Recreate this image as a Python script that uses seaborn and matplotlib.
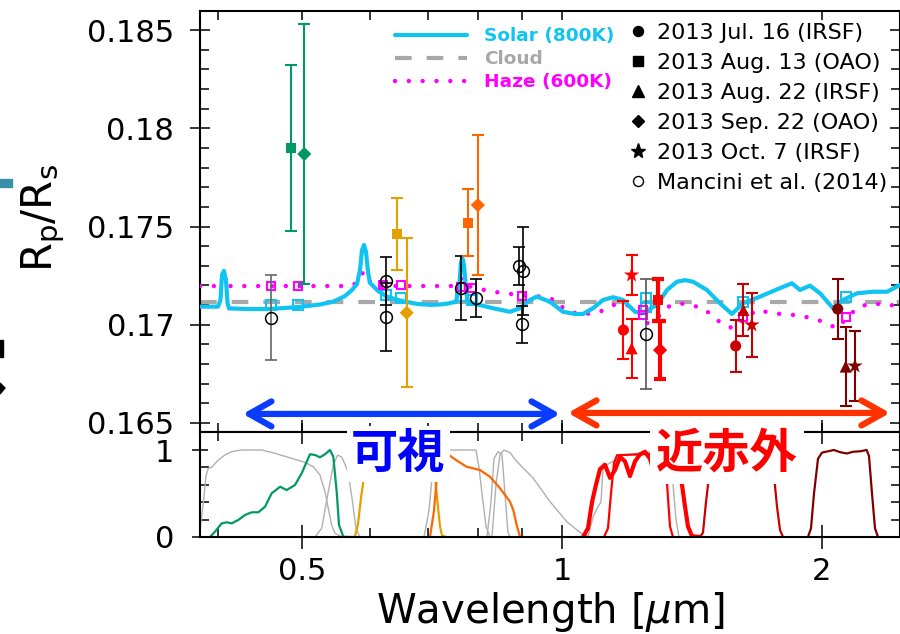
import numpy as np
import pandas as pd
import matplotlib
matplotlib.use("Agg")
import matplotlib.pyplot as plt
import seaborn as sns
from matplotlib.patches import Rectangle, Polygon, ArrowStyle
from matplotlib.lines import Line2D
from matplotlib.ticker import FixedLocator, FixedFormatter, NullFormatter, MultipleLocator

# ---------------- data ----------------
# model spectra (wavelength [um], Rp/Rs)
solar_wl = [0.3809, 0.3996, 0.4023, 0.4039, 0.4060, 0.4082, 0.4099, 0.4115, 0.4352, 0.4590,
            0.4946, 0.5245, 0.5430, 0.5607, 0.5712, 0.5789, 0.5836, 0.5867, 0.5898, 0.5930,
            0.5962, 0.5993, 0.6123, 0.6271, 0.6492, 0.6793, 0.7033, 0.7223, 0.7378, 0.7537,
            0.7598, 0.7639, 0.7669, 0.7700, 0.7741, 0.7783, 0.7929, 0.8320, 0.8704, 0.8942,
            0.9181, 0.9348, 0.9506, 0.9685, 1.0027, 1.0353, 1.0576, 1.0862, 1.1156, 1.1457,
            1.1767, 1.2150, 1.2379, 1.2884, 1.3233, 1.3588, 1.3881, 1.4180, 1.4719, 1.5239,
            1.5734, 1.6202, 1.6952, 1.7880, 1.8461, 1.8860, 1.9369, 1.9897, 2.0600, 2.1157,
            2.1960, 2.2917, 2.3789, 2.4432, 2.4628]
solar_rprs = [0.17092, 0.17092, 0.17126, 0.17253, 0.17274, 0.17228, 0.17111, 0.17083, 0.17080, 0.17080,
              0.17090, 0.17103, 0.17117, 0.17146, 0.17177, 0.17207, 0.17279, 0.17380, 0.17406, 0.17370,
              0.17268, 0.17213, 0.17172, 0.17143, 0.17123, 0.17106, 0.17101, 0.17103, 0.17108, 0.17117,
              0.17177, 0.17319, 0.17338, 0.17304, 0.17177, 0.17117, 0.17106, 0.17084, 0.17066, 0.17084,
              0.17126, 0.17143, 0.17131, 0.17117, 0.17066, 0.17055, 0.17055, 0.17084, 0.17126, 0.17140,
              0.17126, 0.17066, 0.17058, 0.17101, 0.17177, 0.17219, 0.17227, 0.17219, 0.17177, 0.17109,
              0.17055, 0.17109, 0.17143, 0.17186, 0.17211, 0.17177, 0.17199, 0.17160, 0.17084, 0.17126,
              0.17160, 0.17168, 0.17168, 0.17194, 0.17202]
cloud_wl = [0.3809, 2.4628]
cloud_rprs = [0.17114, 0.17114]
haze_wl = [0.3809, 0.3996, 0.4028, 0.4050, 0.4082, 0.4115, 0.4973, 0.5682, 0.5789, 0.5851,
           0.5890, 0.5946, 0.6010, 0.6074, 0.7537, 0.7598, 0.7649, 0.7700, 0.7783, 0.8036,
           0.8320, 0.8940, 0.9608, 0.9947, 1.0027, 1.0492, 1.1066, 1.1466, 1.1883, 1.2256,
           1.2534, 1.2815, 1.3277, 1.3698, 1.4068, 1.4576, 1.4970, 1.5374, 1.5790, 1.6216,
           1.6807, 1.7568, 1.8530, 1.9545, 2.0256, 2.0804, 2.1366, 2.1943, 2.2735, 2.3980, 2.4628]
haze_rprs = [0.17197, 0.17197, 0.17218, 0.17245, 0.17218, 0.17197, 0.17197, 0.17197, 0.17213, 0.17248,
             0.17270, 0.17248, 0.17207, 0.17197, 0.17197, 0.17218, 0.17238, 0.17218, 0.17197, 0.17182,
             0.17168, 0.17151, 0.17141, 0.17112, 0.17084, 0.17050, 0.17066, 0.17101, 0.17101, 0.17066,
             0.17007, 0.17024, 0.17092, 0.17109, 0.17101, 0.17084, 0.17041, 0.16999, 0.16982, 0.17024,
             0.17075, 0.17058, 0.17050, 0.17033, 0.17007, 0.16982, 0.17033, 0.17084, 0.17109, 0.17101, 0.17092]

# band-integrated model values
solar_bin_wl = [0.460, 0.495, 0.625, 0.651, 0.764, 0.786, 1.250, 1.250, 1.620, 2.131]
solar_bin = [0.17101, 0.17101, 0.17151, 0.17135, 0.17146, 0.17126, 0.17135, 0.17092, 0.17117, 0.17140]
haze_bin_wl = [0.460, 0.495, 0.620, 0.651, 0.764, 0.786, 0.898, 1.242, 1.242, 1.620, 2.131]
haze_bin = [0.17197, 0.17197, 0.17202, 0.17202, 0.17194, 0.17185, 0.17148, 0.17075, 0.17050, 0.17041, 0.17041]

# observations (this work)
dates = ["2013 Jul. 16 (IRSF)", "2013 Aug. 13 (OAO)", "2013 Aug. 22 (IRSF)",
         "2013 Sep. 22 (OAO)", "2013 Oct. 7 (IRSF)"]
obs_band = ["g", "g", "r", "r", "i", "i", "J", "J", "J", "J", "J", "H", "H", "H", "Ks", "Ks", "Ks"]
obs_date = [dates[1], dates[3], dates[1], dates[3], dates[1], dates[3],
            dates[0], dates[2], dates[4], dates[1], dates[3],
            dates[0], dates[2], dates[4], dates[0], dates[2], dates[4]]
obs_wl = [0.486, 0.503, 0.644, 0.661, 0.778, 0.799, 1.178, 1.204, 1.204, 1.291, 1.299,
          1.589, 1.622, 1.659, 2.086, 2.131, 2.184]
obs_rprs = [0.17901, 0.17869, 0.17462, 0.17061, 0.17519, 0.17609, 0.16973, 0.16880, 0.17253,
            0.17126, 0.16871, 0.16892, 0.17075, 0.16999, 0.17080, 0.16787, 0.16790]
obs_err = [0.00422, 0.00664, 0.00185, 0.00379, 0.00170, 0.00356, 0.00148, 0.00151, 0.00100,
           0.00105, 0.00149, 0.00134, 0.00130, 0.00164, 0.00154, 0.00202, 0.00179]

# Mancini et al. (2014)
manc_wl = [0.460, 0.625, 0.625, 0.764, 0.795, 0.892, 0.902, 0.898, 1.250]
manc_rprs = [0.17036, 0.17224, 0.17041, 0.17187, 0.17136, 0.17299, 0.17275, 0.17002, 0.16951]
manc_err = [0.00216, 0.00123, 0.00173, 0.00161, 0.00097, 0.00099, 0.00225, 0.00095, 0.00280]

# filter transmission curves
f_gray1_wl = [0.3799, 0.3839, 0.3870, 0.3894, 0.3929, 0.3999, 0.4071, 0.4145, 0.4257, 0.4490,
              0.4652, 0.4864, 0.5039, 0.5152, 0.5245, 0.5315, 0.5362, 0.5411, 0.5459, 0.5558, 0.5682]
f_gray1_t = [0.0, 0.35, 0.70, 0.79, 0.80, 0.885, 0.943, 0.981, 1.0, 1.0,
             0.962, 0.904, 0.858, 0.808, 0.713, 0.521, 0.33, 0.138, 0.042, 0.003, 0.0]
f_g_wl = [0.3912, 0.3964, 0.4036, 0.4090, 0.4145, 0.4218, 0.4294, 0.4372, 0.4450, 0.4530,
          0.4611, 0.4716, 0.4799, 0.4907, 0.4995, 0.5107, 0.5176, 0.5245, 0.5315, 0.5386,
          0.5435, 0.5484, 0.5518, 0.5582, 0.5682]
f_g_t = [0.0, 0.061, 0.157, 0.169, 0.157, 0.195, 0.253, 0.284, 0.284, 0.348,
         0.502, 0.578, 0.540, 0.598, 0.732, 0.951, 0.943, 0.916, 0.951, 1.0,
         0.923, 0.521, 0.138, 0.003, 0.0]
f_gray2_wl = [0.5176, 0.5269, 0.5362, 0.5435, 0.5499, 0.5558, 0.5632, 0.5656, 0.5712, 0.5774, 0.5836]
f_gray2_t = [0.0, 0.10, 0.52, 0.83, 0.94, 0.92, 0.79, 0.73, 0.45, 0.10, 0.0]
f_r_wl = [0.5682, 0.5757, 0.5805, 0.5851, 0.5887, 0.5930, 0.5993, 0.6155, 0.6492, 0.6940,
          0.7070, 0.7127, 0.7184, 0.7223, 0.7261, 0.7339]
f_r_t = [0.0, 0.003, 0.15, 0.45, 0.63, 0.82, 0.93, 0.97, 0.98, 0.97,
         0.90, 0.70, 0.35, 0.12, 0.02, 0.0]
f_i_wl = [0.7033, 0.7108, 0.7165, 0.7223, 0.7353, 0.7551, 0.7756, 0.8036, 0.8253, 0.8477,
          0.8705, 0.8782, 0.8862, 0.8940, 0.9060]
f_i_t = [0.0, 0.30, 0.70, 0.93, 0.96, 0.88, 0.807, 0.77, 0.693, 0.56,
         0.406, 0.31, 0.138, 0.003, 0.0]
f_grayA_wl = [0.6921, 0.7014, 0.7089, 0.7223, 0.7378, 0.7950, 0.8015, 0.8079, 0.8166, 0.8253]
f_grayA_t = [0.0, 0.30, 0.80, 0.97, 1.0, 1.0, 0.80, 0.50, 0.12, 0.0]
f_grayB_wl = [0.8187, 0.8275, 0.8342, 0.8431, 0.8521, 0.8590, 0.8659, 0.8705]
f_grayB_t = [0.0, 0.40, 0.90, 0.98, 0.95, 0.50, 0.05, 0.0]
f_grayC_wl = [0.8297, 0.8386, 0.8477, 0.8567, 0.8705, 0.8862, 0.9263, 0.9685, 1.0126, 1.0584, 1.0833]
f_grayC_t = [0.0, 0.60, 0.95, 1.0, 0.97, 0.87, 0.675, 0.407, 0.177, 0.023, 0.0]
f_grayJ_wl = [1.0717, 1.0862, 1.1008, 1.1096, 1.1164, 1.1275, 1.1767, 1.2214, 1.2645, 1.3337,
              1.3445, 1.3553, 1.3662]
f_grayJ_t = [0.0, 0.23, 0.35, 0.40, 0.85, 0.83, 0.94, 0.96, 0.98, 0.95, 0.60, 0.20, 0.0]
f_Joao_wl = [1.0576, 1.0718, 1.0833, 1.0949, 1.1066, 1.1215, 1.1366, 1.1518, 1.1673, 1.1829,
             1.1988, 1.2150, 1.2312, 1.2477, 1.2645, 1.2815, 1.3056, 1.3337, 1.3625, 1.3771,
             1.3882, 1.3993, 1.4143, 1.4448]
f_Joao_t = [0.0, 0.10, 0.40, 0.60, 0.78, 0.83, 0.68, 0.77, 0.92, 0.87,
            0.70, 0.87, 0.95, 0.98, 0.90, 0.70, 0.75, 0.85, 0.80, 0.60,
            0.35, 0.12, 0.01, 0.0]
f_J_wl = [1.1185, 1.1305, 1.1396, 1.1487, 1.1580, 1.2312, 1.3056, 1.3196, 1.3267, 1.3337, 1.3445]
f_J_t = [0.0, 0.10, 0.50, 0.85, 0.94, 0.95, 0.96, 0.80, 0.45, 0.12, 0.0]
f_H_wl = [1.4448, 1.4564, 1.4681, 1.4799, 1.4958, 1.5240, 1.7414, 1.7601, 1.7742, 1.7884, 1.8028]
f_H_t = [0.0, 0.05, 0.40, 0.70, 0.93, 0.97, 0.97, 0.70, 0.35, 0.08, 0.0]
f_Ks_wl = [1.9270, 1.9425, 1.9581, 1.9791, 2.0003, 2.0326, 2.0654, 2.0987, 2.1382, 2.1727,
           2.2136, 2.2535, 2.2674, 2.2856, 2.3040, 2.3224]
f_Ks_t = [0.0, 0.10, 0.50, 0.90, 0.97, 0.985, 1.0, 0.975, 0.96, 0.98,
          0.985, 1.0, 0.93, 0.50, 0.10, 0.0]

# axis ticks
x_major = [0.5, 1, 2]
x_major_labels = ["0.5", "1", "2"]
x_minor = [0.4, 0.6, 0.7, 0.8, 0.9]
y_top_major = [0.165, 0.17, 0.175, 0.18, 0.185]
y_top_labels = ["0.165", "0.17", "0.175", "0.18", "0.185"]
y_bot_major = [0, 1]
y_bot_labels = ["0", "1"]
y_bot_minor = [0.2, 0.4, 0.6, 0.8]

# ---------------- styles ----------------
sns.set_theme(style="ticks", rc={
    "axes.edgecolor": "black", "xtick.color": "black", "ytick.color": "black",
    "axes.linewidth": 1.5, "text.color": "black", "axes.labelcolor": "black",
    "xtick.major.width": 1.1, "ytick.major.width": 1.1,
    "xtick.minor.width": 1.1, "ytick.minor.width": 1.1,
})
plt.rcParams["font.family"] = ["DejaVu Sans", "Noto Sans CJK JP"]
plt.rcParams["mathtext.fontset"] = "dejavusans"

C_SOLAR = "#10c4f2"
C_CLOUD = "#a8a8a8"
C_HAZE = "#ff00ff"
band_colors = {"g": "#009966", "r": "#e69f00", "i": "#ff6600",
               "J": "#ff0000", "H": "#c80000", "Ks": "#800000"}
date_markers = dict(zip(dates, ["o", "s", "^", "D", "*"]))
date_sizes = dict(zip(dates, [64, 50, 76, 52, 135]))

XMIN, XMAX = 0.3809, 2.4628

fig = plt.figure(figsize=(9, 6.34), dpi=100)
W, H = 900.0, 634.0
ax = fig.add_axes([200 / W, 1 - 432 / H, 700 / W, 421 / H])
axb = fig.add_axes([200 / W, 1 - 537 / H, 700 / W, 105 / H])

for a in (ax, axb):
    a.set_xscale("log")
    a.set_xlim(XMIN, XMAX)
    for s in a.spines.values():
        s.set_linewidth(1.5)
        s.set_color("black")

# ---- top panel: models ----
sns.lineplot(x=cloud_wl, y=cloud_rprs, ax=ax, color=C_CLOUD, lw=3,
             linestyle=(0, (4, 3.6)), estimator=None, zorder=2)
sns.lineplot(x=haze_wl, y=haze_rprs, ax=ax, color=C_HAZE, lw=3.2,
             linestyle=(0, (0.01, 3.1)), dash_capstyle="round", estimator=None, zorder=3)
sns.lineplot(x=solar_wl, y=solar_rprs, ax=ax, color=C_SOLAR, lw=3, estimator=None, zorder=4)

ax.plot(solar_bin_wl, solar_bin, ls="none", marker="s", ms=6.5, mfc="none", mec=C_SOLAR, mew=1.5, zorder=5)
ax.plot(haze_bin_wl, haze_bin, ls="none", marker="s", ms=6.0, mfc="none", mec=C_HAZE, mew=1.5, zorder=5)

# ---- Mancini ----
manc_ecol = ["#666666", "black", "black", "black", "black", "black", "black", "black", "#555555"]
for x, y, e, c in zip(manc_wl, manc_rprs, manc_err, manc_ecol):
    ax.errorbar([x], [y], yerr=[e], fmt="none", ecolor=c, elinewidth=1.2, capsize=4, capthick=1.2, zorder=6)
ax.plot(manc_wl, manc_rprs, ls="none", marker="o", ms=8.5, mfc="none", mec="black", mew=1.1, zorder=7)

# ---- our observations ----
obs = pd.DataFrame({"wl": obs_wl, "rprs": obs_rprs, "err": obs_err,
                    "band": obs_band, "date": obs_date})
for _, r in obs.iterrows():
    thick = (r["band"] == "J") and ("OAO" in r["date"])
    lw = 3.0 if thick else 1.5
    ax.errorbar([r["wl"]], [r["rprs"]], yerr=[r["err"]], fmt="none", ecolor=band_colors[r["band"]],
                elinewidth=lw, capsize=4, capthick=lw, zorder=8)
sns.scatterplot(data=obs, x="wl", y="rprs", hue="band", style="date", size="date",
                palette=band_colors, markers=date_markers, sizes=date_sizes,
                linewidth=0, legend=False, ax=ax, zorder=9)

ax.set_ylim(0.16454, 0.18597)
ax.set_xlabel("")
ax.set_ylabel("")
ax.xaxis.set_major_locator(FixedLocator(x_major))
ax.xaxis.set_minor_locator(FixedLocator(x_minor))
ax.xaxis.set_major_formatter(NullFormatter())
ax.xaxis.set_minor_formatter(NullFormatter())
ax.tick_params(axis="x", which="both", direction="in", top=True, bottom=True, length=6.5,
               labelbottom=False)
ax.yaxis.set_major_locator(FixedLocator(y_top_major))
ax.yaxis.set_major_formatter(FixedFormatter(y_top_labels))
ax.yaxis.set_minor_locator(MultipleLocator(0.001))
ax.tick_params(axis="y", which="major", direction="inout", length=15, left=True, right=True,
               labelsize=22, pad=11)
ax.tick_params(axis="y", which="minor", direction="in", length=6.5, left=True, right=True)

# legends
model_handles = [Line2D([], [], color=C_SOLAR, lw=3),
                 Line2D([], [], color=C_CLOUD, lw=3, ls=(0, (4, 3.6))),
                 Line2D([], [], color=C_HAZE, lw=3.2, ls=(0, (0.01, 3.1)), dash_capstyle="round")]
leg1 = ax.legend(model_handles, ["Solar (800K)", "Cloud", "Haze (600K)"],
                 loc="upper left", bbox_to_anchor=(395 / W, 1 - 27 / H), bbox_transform=fig.transFigure,
                 frameon=False, borderpad=0, borderaxespad=0, handlelength=3.9, handletextpad=0.9,
                 labelspacing=0.27, prop={"weight": "bold", "size": 13.3},
                 labelcolor=[C_SOLAR, C_CLOUD, C_HAZE])
ax.add_artist(leg1)
date_handles = [Line2D([], [], ls="none", marker="o", ms=7.2, color="black"),
                Line2D([], [], ls="none", marker="s", ms=6.5, color="black"),
                Line2D([], [], ls="none", marker="^", ms=8.5, color="black"),
                Line2D([], [], ls="none", marker="D", ms=6.0, color="black"),
                Line2D([], [], ls="none", marker="*", ms=11, color="black"),
                Line2D([], [], ls="none", marker="o", ms=7.2, mfc="none", mec="black", mew=1.0)]
ax.legend(date_handles, dates + ["Mancini et al. (2014)"], loc="upper left",
          bbox_to_anchor=(629 / W, 1 - 23 / H), bbox_transform=fig.transFigure,
          frameon=False, borderpad=0, borderaxespad=0, handlelength=0.8, handletextpad=0.48,
          labelspacing=0.45, prop={"size": 16})

# arrows (visible / near-infrared ranges)
ax.annotate("", xy=(0.427, 0.16546), xytext=(0.995, 0.16546),
            arrowprops=dict(arrowstyle=ArrowStyle("<->", head_length=0.8, head_width=0.45),
                            color="#0a3cff", lw=4.5, shrinkA=0, shrinkB=0, mutation_scale=20,
                            capstyle="round", joinstyle="round"), zorder=10)
ax.annotate("", xy=(1.016, 0.16551), xytext=(2.398, 0.16551),
            arrowprops=dict(arrowstyle=ArrowStyle("<->", head_length=0.8, head_width=0.45),
                            color="#ff3300", lw=4.5, shrinkA=0, shrinkB=0, mutation_scale=20,
                            capstyle="round", joinstyle="round"), zorder=10)

# ---- bottom panel: filter transmission ----
filters = [
    (f_gray1_wl, f_gray1_t, "#b0b0b0", 1.0),
    (f_gray2_wl, f_gray2_t, "#b0b0b0", 1.0),
    (f_grayA_wl, f_grayA_t, "#b0b0b0", 1.0),
    (f_grayB_wl, f_grayB_t, "#b0b0b0", 1.0),
    (f_grayC_wl, f_grayC_t, "#b0b0b0", 1.0),
    (f_grayJ_wl, f_grayJ_t, "#b0b0b0", 1.0),
    (f_g_wl, f_g_t, band_colors["g"], 1.6),
    (f_r_wl, f_r_t, band_colors["r"], 1.6),
    (f_i_wl, f_i_t, band_colors["i"], 1.6),
    (f_Joao_wl, f_Joao_t, band_colors["J"], 3.0),
    (f_J_wl, f_J_t, band_colors["J"], 1.6),
    (f_H_wl, f_H_t, band_colors["H"], 1.6),
    (f_Ks_wl, f_Ks_t, band_colors["Ks"], 1.6),
]
for k, (fx, fy, c, lw) in enumerate(filters):
    sns.lineplot(x=fx, y=fy, ax=axb, color=c, lw=lw, estimator=None, zorder=2 + k * 0.01)

axb.set_ylim(0, 1.207)
axb.set_ylabel("")
axb.set_xlabel("")
axb.xaxis.set_major_locator(FixedLocator(x_major))
axb.xaxis.set_major_formatter(FixedFormatter(x_major_labels))
axb.xaxis.set_minor_locator(FixedLocator(x_minor))
axb.xaxis.set_minor_formatter(NullFormatter())
axb.tick_params(axis="x", which="major", direction="inout", length=17, top=True, bottom=True,
                labelsize=22, pad=6)
axb.tick_params(axis="x", which="minor", direction="in", length=6.5, top=True, bottom=True)
axb.yaxis.set_major_locator(FixedLocator(y_bot_major))
axb.yaxis.set_major_formatter(FixedFormatter(y_bot_labels))
axb.yaxis.set_minor_locator(FixedLocator(y_bot_minor))
axb.tick_params(axis="y", which="major", direction="inout", length=11, left=True, right=True,
                labelsize=22, pad=13)
axb.tick_params(axis="y", which="minor", direction="in", length=6.5, left=True, right=True)

# axis titles
fig.text(550 / W, 1 - 612 / H, "Wavelength [$\\mu$m]", fontsize=29, ha="center", va="center")
fig.text(43 / W, 1 - 218 / H, "$\\mathregular{R_p/R_s}$", fontsize=30, rotation=90,
         ha="center", va="center")

# range labels
fig.text(398 / W, 1 - 454 / H, "可視", color="#0000ff", fontsize=34, fontweight="bold",
         family=["Noto Sans CJK JP"], ha="center", va="center", zorder=20,
         bbox=dict(fc="white", ec="none", pad=3))
fig.text(727 / W, 1 - 454 / H, "近赤外", color="#ff0000", fontsize=34, fontweight="bold",
         family=["Noto Sans CJK JP"], ha="center", va="center", zorder=20,
         bbox=dict(fc="white", ec="none", pad=4))

# cropped fragments at the left edge of the original figure
fig.patches.append(Rectangle((0, 1 - 187 / H), 12 / W, 8 / H, transform=fig.transFigure,
                             color="#3a8fa8"))
fig.patches.append(Rectangle((0, 1 - 357 / H), 3 / W, 17 / H, transform=fig.transFigure,
                             color="black"))
fig.patches.append(Polygon([(0, 1 - 383 / H), (5 / W, 1 - 388 / H), (0, 1 - 394 / H)],
                           closed=True, transform=fig.transFigure, color="black"))

fig.savefig("out.png", dpi=100)
